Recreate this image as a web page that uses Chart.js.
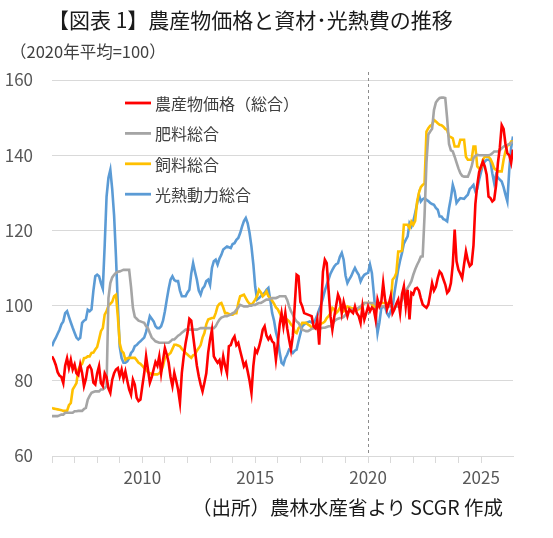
<!DOCTYPE html>
<html lang="ja">
<head>
<meta charset="utf-8">
<script src="https://cdn.jsdelivr.net/npm/chart.js@4.4.1/dist/chart.umd.min.js"></script>
<style>
  html, body { margin: 0; padding: 0; background: #fff; }
  #wrap { position: relative; width: 553px; height: 538px; font-family: 'Noto Sans CJK JP', 'Noto Sans', sans-serif; }
  #chart { position: absolute; left: 0; top: 0; }
  .title { position: absolute; left: 48px; top: 5px; font-size: 21px; line-height: 28px; color: #1a1a1a; white-space: nowrap; }
  .unit { position: absolute; left: 10px; top: 40px; font-size: 16.5px; line-height: 22px; color: #404040; white-space: nowrap; }
  .source { position: absolute; right: 50px; top: 494px; font-size: 19.5px; line-height: 26px; color: #1a1a1a; white-space: nowrap; }
</style>
</head>
<body>
<div id="wrap">
  <canvas id="chart" width="553" height="538"></canvas>
  <div class="title">【図表 1】農産物価格と資材･光熱費の推移</div>
  <div class="unit">（2020年平均=100）</div>
  <div class="source">（出所）農林水産省より SCGR 作成</div>
</div>
<script>
// monthly series, starting January 2006 (2020 average = 100)
const startYear = 2006;
const seriesNames = ['農産物価格（総合）', '肥料総合', '飼料総合', '光熱動力総合'];
const yearLabels = ['2010', '2015', '2020', '2025'];

const farmPrice = [
    86.5, 85.6, 84.2, 82.3, 81.4, 81.0, 79.4, 84.0, 86.0, 83.4, 85.6, 83.0, // 2006
    84.3, 82.0, 81.5, 84.3, 82.1, 78.6, 80.5, 83.5, 84.0, 83.0, 79.5, 79.0, // 2007
    82.0, 83.9, 79.4, 78.6, 82.0, 81.0, 78.0, 76.8, 80.3, 82.0, 83.0, 83.4, // 2008
    81.2, 83.0, 80.5, 82.5, 80.0, 77.7, 76.3, 80.3, 79.0, 75.5, 74.6, 75.0, // 2009
    78.6, 82.0, 86.5, 83.0, 79.5, 81.0, 83.0, 85.0, 84.0, 86.5, 82.0, 85.5, // 2010
    88.7, 87.0, 84.8, 81.0, 78.6, 82.1, 80.0, 77.7, 74.2, 82.1, 86.5, 90.0, // 2011
    92.7, 96.5, 96.0, 92.0, 88.0, 84.0, 81.2, 79.0, 77.2, 79.5, 82.0, 87.5, // 2012
    91.0, 93.6, 86.5, 85.6, 84.8, 85.5, 83.0, 86.5, 84.0, 82.0, 89.2, 89.5, // 2013
    91.0, 91.8, 89.5, 90.1, 88.0, 86.0, 83.9, 84.8, 82.5, 80.0, 76.8, 83.9, // 2014
    88.3, 87.5, 89.0, 91.0, 93.6, 94.5, 92.0, 91.0, 91.8, 90.5, 90.0, 85.6, // 2015
    90.0, 95.0, 98.0, 94.5, 98.0, 94.0, 91.0, 88.3, 92.0, 100.0, 108.2, 107.8, // 2016
    101.0, 99.8, 98.0, 97.8, 97.6, 97.4, 97.2, 94.5, 94.0, 96.3, 89.6, 99.0, // 2017
    109.0, 112.2, 111.3, 104.0, 97.2, 93.6, 97.0, 100.0, 102.9, 101.6, 98.0, 101.0, // 2018
    99.0, 97.2, 99.0, 98.5, 98.0, 99.8, 98.0, 97.2, 95.4, 99.8, 96.3, 98.0, // 2019
    99.8, 98.5, 99.5, 99.0, 96.3, 101.6, 99.8, 101.0, 106.0, 101.6, 99.0, 100.5, // 2020
    102.5, 98.0, 99.0, 100.5, 101.6, 98.0, 103.0, 105.1, 99.8, 104.2, 96.3, 103.4, // 2021
    103.0, 104.5, 104.7, 104.0, 102.0, 100.3, 99.8, 99.4, 100.3, 103.0, 106.0, 104.0, // 2022
    105.0, 107.3, 109.1, 108.5, 107.0, 105.6, 103.4, 104.0, 106.0, 110.9, 120.2, 111.8, // 2023
    109.5, 108.5, 107.3, 111.0, 114.4, 112.0, 110.5, 111.0, 116.0, 127.0, 132.0, 135.5, // 2024
    137.0, 138.3, 137.0, 134.8, 129.0, 128.6, 127.7, 128.2, 132.0, 138.0, 142.0, 148.0, // 2025
    147.0, 143.0, 140.5, 140.0, 138.0, 141.5 // 2026
];

const fertilizer = [
    70.6, 70.6, 70.6, 70.6, 70.8, 71.0, 71.0, 71.5, 71.5, 71.5, 71.5, 71.5, // 2006
    71.9, 71.9, 72.0, 72.0, 72.0, 72.5, 72.8, 75.0, 76.0, 76.8, 77.0, 77.2, // 2007
    77.2, 77.2, 77.7, 77.7, 78.1, 78.6, 102.0, 106.0, 107.5, 108.2, 108.7, 109.0, // 2008
    109.1, 109.3, 109.5, 109.5, 109.5, 109.5, 105.0, 99.4, 97.0, 96.5, 96.0, 95.8, // 2009
    95.6, 95.4, 94.5, 94.0, 92.7, 91.5, 91.0, 90.5, 90.3, 90.1, 90.1, 90.1, // 2010
    90.1, 90.1, 90.1, 90.5, 91.0, 91.0, 91.5, 92.0, 92.3, 92.8, 93.2, 93.6, // 2011
    93.6, 93.6, 93.6, 93.6, 93.6, 93.6, 93.8, 94.0, 94.0, 94.0, 94.0, 94.0, // 2012
    94.0, 94.0, 94.0, 94.5, 95.5, 96.3, 96.8, 97.0, 97.2, 97.2, 97.4, 97.6, // 2013
    98.0, 98.2, 98.9, 99.5, 100.2, 100.0, 99.8, 99.8, 99.8, 100.0, 100.0, 100.2, // 2014
    100.2, 100.5, 100.7, 100.7, 101.0, 101.3, 101.6, 101.6, 101.8, 102.0, 102.0, 102.0, // 2015
    102.2, 102.5, 102.5, 102.5, 102.5, 101.5, 99.8, 98.5, 97.6, 96.5, 95.8, 95.4, // 2016
    94.5, 93.6, 93.4, 93.2, 93.2, 93.5, 93.8, 94.0, 94.0, 94.0, 94.0, 94.0, // 2017
    94.1, 94.1, 94.3, 94.5, 94.5, 95.0, 95.8, 96.3, 96.5, 96.7, 96.7, 97.0, // 2018
    97.6, 98.0, 98.5, 98.9, 98.9, 98.9, 99.0, 99.5, 99.8, 100.3, 100.7, 100.7, // 2019
    100.7, 100.7, 100.7, 100.7, 100.2, 99.8, 99.8, 99.8, 99.8, 99.8, 99.8, 99.8, // 2020
    99.8, 99.8, 99.8, 99.8, 99.8, 100.5, 101.5, 102.8, 103.8, 104.7, 105.5, 106.5, // 2021
    108.2, 109.6, 110.8, 111.8, 113.0, 113.1, 124.0, 138.0, 145.5, 146.3, 147.0, 152.0, // 2022
    154.0, 154.7, 155.2, 155.3, 155.3, 155.2, 149.8, 143.0, 141.3, 141.0, 139.6, 138.0, // 2023
    136.5, 135.2, 134.5, 134.3, 134.3, 134.3, 135.5, 137.0, 139.2, 139.8, 140.1, 140.0, // 2024
    140.0, 140.0, 140.0, 140.0, 140.0, 140.1, 140.5, 141.0, 141.0, 141.0, 141.3, 141.8, // 2025
    142.3, 142.5, 142.7, 143.0, 143.2, 143.6 // 2026
];

const feed = [
    72.8, 72.6, 72.5, 72.4, 72.3, 72.2, 72.0, 72.0, 72.0, 73.5, 74.1, 77.7, // 2006
    78.5, 79.4, 83.0, 84.0, 84.5, 86.0, 86.1, 86.5, 86.5, 87.4, 87.5, 88.3, // 2007
    89.0, 91.0, 93.2, 94.0, 97.6, 98.5, 100.0, 100.5, 101.0, 102.5, 102.9, 97.0, // 2008
    90.0, 88.0, 87.4, 85.6, 86.0, 86.1, 86.1, 86.1, 86.1, 85.5, 84.8, 84.5, // 2009
    84.0, 83.4, 83.0, 82.3, 82.0, 81.8, 81.7, 81.7, 81.7, 82.0, 82.6, 84.0, // 2010
    86.1, 86.5, 87.0, 87.4, 88.5, 89.6, 89.6, 89.4, 89.2, 88.5, 88.0, 87.4, // 2011
    87.0, 86.5, 86.1, 86.8, 87.0, 88.0, 88.7, 89.5, 91.5, 92.7, 95.0, 96.3, // 2012
    96.5, 96.7, 96.7, 98.0, 99.8, 100.5, 100.7, 99.5, 98.0, 98.0, 97.8, 97.6, // 2013
    97.6, 98.0, 98.0, 100.7, 102.5, 102.7, 102.9, 102.0, 101.1, 100.5, 100.2, 100.8, // 2014
    101.6, 102.5, 104.2, 103.5, 102.5, 103.0, 103.8, 102.5, 102.0, 101.3, 100.5, 99.5, // 2015
    99.0, 98.0, 97.0, 96.7, 96.5, 96.3, 95.8, 95.0, 94.5, 93.0, 92.7, 94.0, // 2016
    94.5, 95.4, 95.4, 95.4, 95.0, 94.7, 94.2, 94.0, 94.2, 94.5, 94.8, 95.2, // 2017
    95.4, 95.8, 96.7, 97.2, 98.0, 99.4, 99.0, 98.0, 98.5, 99.4, 98.8, 98.5, // 2018
    99.0, 99.8, 99.6, 99.4, 99.2, 99.0, 98.9, 99.0, 99.4, 100.0, 100.7, 100.7, // 2019
    100.7, 100.7, 100.5, 99.8, 99.8, 99.8, 100.3, 100.7, 100.7, 100.7, 100.7, 100.7, // 2020
    100.7, 106.9, 107.5, 108.7, 114.4, 114.4, 114.6, 121.5, 121.5, 121.5, 120.6, 122.3, // 2021
    121.5, 122.5, 127.5, 130.0, 131.5, 132.1, 132.5, 146.3, 147.2, 147.8, 148.1, 149.4, // 2022
    149.0, 148.5, 148.1, 148.0, 147.6, 147.0, 146.7, 145.0, 144.8, 144.5, 142.3, 142.3, // 2023
    142.3, 144.1, 144.1, 144.1, 139.6, 138.8, 138.8, 138.8, 142.3, 142.3, 137.0, 136.5, // 2024
    136.5, 138.8, 139.6, 139.6, 139.6, 139.0, 137.9, 136.5, 136.1, 135.7, 135.7, 135.7, // 2025
    138.8, 141.0, 142.7, 142.7, 143.6, 143.6 // 2026
];

const energy = [
    89.2, 90.5, 91.4, 92.5, 93.6, 95.0, 95.8, 98.0, 98.5, 97.0, 95.5, 94.1, // 2006
    92.8, 91.5, 91.0, 91.4, 95.4, 96.0, 96.3, 98.9, 98.5, 99.0, 104.0, 107.8, // 2007
    108.2, 107.8, 106.0, 104.5, 116.0, 129.0, 134.0, 136.1, 131.0, 124.0, 113.0, 100.0, // 2008
    89.0, 86.0, 84.8, 84.8, 85.2, 86.0, 87.4, 88.0, 89.2, 89.5, 90.1, 90.5, // 2009
    91.0, 91.5, 93.0, 95.0, 97.2, 96.5, 95.8, 94.5, 94.0, 94.0, 94.5, 96.0, // 2010
    98.5, 101.6, 104.5, 106.9, 107.8, 106.8, 106.5, 106.5, 104.0, 102.5, 102.5, 102.5, // 2011
    103.5, 104.2, 108.5, 111.3, 109.0, 106.9, 104.0, 102.9, 104.5, 105.1, 106.5, 106.9, // 2012
    105.5, 110.0, 111.8, 112.2, 110.9, 112.5, 113.5, 114.9, 115.3, 115.7, 115.5, 115.3, // 2013
    116.4, 116.6, 117.5, 118.0, 119.3, 121.0, 122.5, 123.3, 121.9, 119.3, 115.7, 111.0, // 2014
    105.0, 101.6, 102.0, 102.5, 103.0, 103.4, 104.2, 104.7, 101.6, 98.0, 96.0, 93.0, // 2015
    91.0, 87.5, 84.8, 84.3, 86.0, 87.0, 88.3, 88.0, 87.4, 88.0, 88.3, 90.5, // 2016
    92.5, 94.5, 95.0, 95.4, 95.6, 95.8, 95.5, 95.4, 96.3, 97.5, 99.0, 100.3, // 2017
    102.0, 104.0, 105.5, 107.0, 108.5, 109.5, 110.4, 111.0, 111.3, 113.0, 114.0, 112.2, // 2018
    108.0, 106.0, 107.0, 107.8, 109.0, 110.0, 109.0, 108.2, 106.4, 107.5, 108.2, 108.5, // 2019
    108.7, 110.9, 108.7, 103.4, 98.0, 92.7, 95.5, 99.4, 99.6, 99.8, 98.0, 97.2, // 2020
    98.5, 99.5, 103.4, 106.5, 109.6, 112.0, 114.0, 116.5, 117.5, 118.4, 121.9, 121.0, // 2021
    122.4, 124.6, 127.0, 129.5, 127.7, 128.3, 128.6, 128.1, 127.8, 127.3, 127.0, 126.8, // 2022
    126.0, 125.5, 123.7, 123.7, 123.0, 122.8, 122.4, 125.9, 128.6, 132.1, 130.4, 127.3, // 2023
    128.0, 128.6, 128.5, 128.4, 129.0, 129.5, 131.0, 131.5, 132.1, 130.4, 131.0, 133.5, // 2024
    135.5, 137.4, 138.3, 138.8, 138.8, 138.5, 135.2, 132.6, 134.8, 134.0, 133.5, 133.0, // 2025
    131.5, 129.5, 127.7, 136.0, 142.0, 145.0 // 2026
];

const seriesColors = ['#ff0000', '#a5a5a5', '#ffc000', '#5b9bd5'];
const fontFamily = "'Noto Sans CJK JP', 'Noto Sans', sans-serif";

// month index -> decimal year for the linear x axis
function toPoints(values) {
    return values.map((v, i) => ({ x: startYear + i / 12, y: v }));
}

// dashed marker at 2020 (drawn behind the lines)
const marker2020 = {
    id: 'marker2020',
    beforeDatasetsDraw(chart) {
        const { ctx, chartArea, scales } = chart;
        const x = Math.round(scales.x.getPixelForValue(2020)) + 0.5;
        ctx.save();
        ctx.strokeStyle = '#8c8c8c';
        ctx.lineWidth = 1;
        ctx.setLineDash([3, 3]);
        ctx.beginPath();
        ctx.moveTo(x, 72);
        ctx.lineTo(x, chartArea.bottom);
        ctx.stroke();
        ctx.restore();
    }
};

// legend drawn inside the plot, top left
const innerLegend = {
    id: 'innerLegend',
    afterDatasetsDraw(chart) {
        const ctx = chart.ctx;
        ctx.save();
        ctx.font = `16px ${fontFamily}`;
        ctx.textBaseline = 'middle';
        ctx.fillStyle = '#404040';
        chart.data.datasets.forEach((ds, i) => {
            const y = 103 + i * 30.4;
            ctx.strokeStyle = ds.borderColor;
            ctx.lineWidth = 2.8;
            ctx.beginPath();
            ctx.moveTo(125, y);
            ctx.lineTo(151, y);
            ctx.stroke();
            ctx.fillText(ds.label, 155, y + 1);
        });
        ctx.restore();
    }
};

const allSeries = [farmPrice, fertilizer, feed, energy];

new Chart(document.getElementById('chart'), {
    type: 'line',
    data: {
        datasets: allSeries.map((values, i) => ({
            label: seriesNames[i],
            data: toPoints(values),
            borderColor: seriesColors[i],
            backgroundColor: seriesColors[i],
            borderWidth: 2.6,
            pointRadius: 0,
            tension: 0,
            fill: false
        }))
    },
    options: {
        responsive: false,
        animation: false,
        layout: { padding: { top: 80, right: 40, bottom: 0, left: 0 } },
        plugins: {
            legend: { display: false },
            tooltip: { enabled: false }
        },
        scales: {
            x: {
                type: 'linear',
                min: startYear,
                max: startYear + farmPrice.length / 12 - 1 / 12,
                afterBuildTicks: (scale) => {
                    scale.ticks = scale.ticks.filter(t => Math.abs(t.value - Math.round(t.value)) < 1e-6);
                },
                afterFit: (scale) => { scale.height = 82; },
                ticks: {
                    stepSize: 1,
                    autoSkip: false,
                    maxRotation: 0,
                    padding: 4,
                    color: '#595959',
                    font: { family: fontFamily, size: 17 },
                    callback: (value) => yearLabels.includes(String(value)) ? String(value) : ''
                },
                grid: { drawOnChartArea: false, drawTicks: true, tickLength: 7, color: '#d9d9d9' },
                border: { display: true, color: '#d9d9d9' }
            },
            y: {
                min: 60,
                max: 160,
                afterFit: (scale) => { scale.width = 52; },
                ticks: {
                    stepSize: 20,
                    padding: 19,
                    color: '#595959',
                    font: { family: fontFamily, size: 17 }
                },
                grid: { color: '#d9d9d9', drawTicks: false },
                border: { display: false }
            }
        }
    },
    plugins: [marker2020, innerLegend]
});
</script>
</body>
</html>
